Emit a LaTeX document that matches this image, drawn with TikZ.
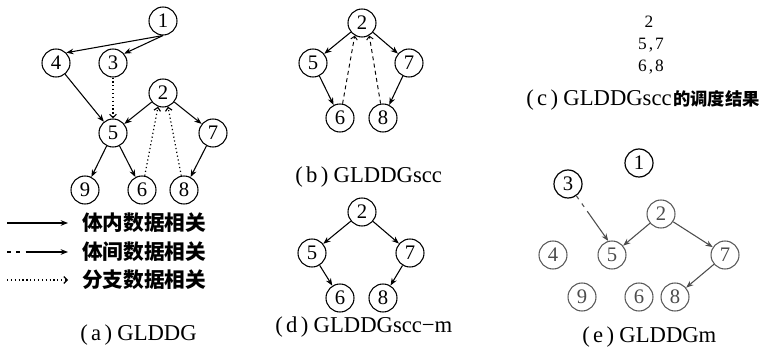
\documentclass[tikz,border=0pt]{standalone}
\usepackage{fontspec}
\setmainfont{Liberation Serif}
\newfontfamily\cjk{Noto Sans CJK SC}
\usetikzlibrary{arrows.meta}
\newcommand\lab[1]{(\hspace{2.5pt}#1\hspace{2.5pt})\hspace{4pt}}
\begin{document}
\begin{tikzpicture}[x=0.75pt,y=-0.75pt,
  nd/.style={circle,draw,line width=0.8pt,minimum size=21pt,inner sep=0pt,font=\fontsize{15.5}{15.5}\selectfont},
  ndg/.style={nd,draw=black!65,text=black!70},
  sol/.style={line width=0.8pt,-{Stealth[length=5.5pt,width=4.2pt]}},
  solg/.style={sol,draw=black!70},
  dotl/.style={line width=0.9pt,dotted,-{Straight Barb[length=2.5pt,width=5pt]}},
  dashl/.style={line width=0.7pt,dash pattern=on 3pt off 2.5pt,-{Straight Barb[length=2.5pt,width=5pt]}},
  inter/.style={line width=0.8pt,dash pattern=on 3pt off 4pt on 3pt off 4pt on 60pt off 0pt,-{Stealth[length=5.5pt,width=4.2pt]}},
  capt/.style={anchor=west,inner sep=0pt,font=\fontsize{17}{17}\selectfont},
  legt/.style={anchor=west,inner sep=0pt,font=\cjk\bfseries\fontsize{15.5}{15.5}\selectfont},
  sched/.style={inner sep=0pt,font=\fontsize{13}{13}\selectfont}
]
\useasboundingbox (0,0) rectangle (766,352);

% ---------- (a) GLDDG ----------
\node[nd] (a1) at (163,21) {1};
\node[nd] (a4) at (56,63) {4};
\node[nd] (a3) at (113,63) {3};
\node[nd] (a2) at (163,93) {2};
\node[nd] (a5) at (113,133) {5};
\node[nd] (a7) at (213,133) {7};
\node[nd] (a9) at (85,190) {9};
\node[nd] (a6) at (142,190) {6};
\node[nd] (a8) at (184,190) {8};
\draw[sol] (a1.south) -- (a4.north east);
\draw[sol] (a1.south) -- (a3.40);
\draw[sol] (a4) -- (a5);
\draw[dotl] (a3) -- (a5);
\draw[sol] (a2) -- (a5);
\draw[sol] (a2) -- (a7);
\draw[sol] (a5) -- (a9);
\draw[sol] (a5) -- (a6);
\draw[sol] (a7) -- (a8);
\draw[dotl] (a6) -- (a2.250);
\draw[dotl] (a8) -- (a2.290);

% legend
\coordinate (l1a) at (7,223); \coordinate (l1b) at (68,223);
\coordinate (l2a) at (7,252); \coordinate (l2b) at (68,252);
\coordinate (l3a) at (7,280); \coordinate (l3b) at (68,280);
\draw[sol] (l1a) -- (l1b);
\draw[inter] (l2a) -- (l2b);
\draw[dotl] (l3a) -- (l3b);
\node[legt] (t1) at (82,223) {体内数据相关};
\node[legt] (t2) at (82,252) {体间数据相关};
\node[legt] (t3) at (82,280) {分支数据相关};
\node[capt] (capa) at (80,335) {\lab{a}GLDDG};

% ---------- (b) GLDDGscc ----------
\node[nd] (b2) at (362,23) {2};
\node[nd] (b5) at (313,63) {5};
\node[nd] (b7) at (409,63) {7};
\node[nd] (b6) at (340,118) {6};
\node[nd] (b8) at (383,118) {8};
\draw[sol] (b2) -- (b5);
\draw[sol] (b2) -- (b7);
\draw[sol] (b5) -- (b6);
\draw[sol] (b7) -- (b8);
\draw[dashl] (b6) -- (b2.240);
\draw[dashl] (b8) -- (b2.300);
\node[capt] (capb) at (295,177) {\lab{b}GLDDGscc};

% ---------- (c) schedule ----------
\node[sched] (c1) at (649,22) {2};
\node[sched] (c2) at (651,45) {5\hspace{1.5pt},\hspace{1.5pt}7};
\node[sched] (c3) at (651,67) {6\hspace{1.5pt},\hspace{1.5pt}8};
\node[capt] (capc) at (526,100) {\lab{c}GLDDGscc\hspace{1pt}{\cjk\bfseries\fontsize{13}{13}\selectfont 的调度结果}};

% ---------- (d) GLDDGscc-m ----------
\node[nd] (d2) at (362,212) {2};
\node[nd] (d5) at (312,253) {5};
\node[nd] (d7) at (410,253) {7};
\node[nd] (d6) at (340,298) {6};
\node[nd] (d8) at (383,298) {8};
\draw[sol] (d2) -- (d5);
\draw[sol] (d2) -- (d7);
\draw[sol] (d5) -- (d6);
\draw[sol] (d7) -- (d8);
\node[capt] (capd) at (275,327) {\lab{d}GLDDGscc−m};

% ---------- (e) GLDDGm ----------
\node[nd,line width=0.9pt] (e1) at (639,163) {1};
\node[nd,line width=0.9pt] (e3) at (568,184) {3};
\node[ndg] (e2) at (661,214) {2};
\node[ndg] (e4) at (553,255) {4};
\node[ndg] (e5) at (612,255) {5};
\node[ndg] (e7) at (725,255) {7};
\node[ndg] (e9) at (582,297) {9};
\node[ndg] (e6) at (639,297) {6};
\node[ndg] (e8) at (675,297) {8};
\draw[inter,draw=black!70] (e3) -- (e5.105);
\draw[solg] (e2) -- (e5);
\draw[solg] (e2) -- (e7);
\draw[solg] (e7) -- (e8);
\node[capt] (cape) at (582,337) {\lab{e}GLDDGm};
\end{tikzpicture}
\end{document}
